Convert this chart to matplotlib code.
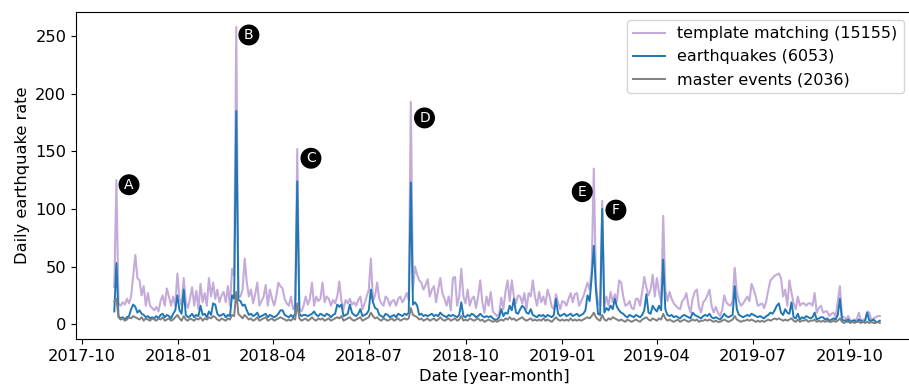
import numpy as np
import pandas as pd
import matplotlib
matplotlib.use("Agg")
import matplotlib.pyplot as plt
import matplotlib.dates as mdates

# daily rates, sampled every second day from 2017-11-01
template_counts = [
    32, 125, 18, 16, 19, 17, 22, 18, 24, 42, 60, 40, 38, 25, 33, 16, 27, 16, 14, 12,
    15, 11, 20, 25, 16, 31, 24, 16, 24, 16, 44, 22, 16, 40, 19, 14, 22, 32, 16, 29,
    13, 35, 19, 27, 16, 40, 24, 36, 22, 30, 19, 25, 28, 19, 33, 16, 48, 42, 258, 24,
    24, 30, 57, 36, 24, 30, 18, 26, 36, 16, 20, 24, 34, 16, 30, 22, 16, 24, 36, 33,
    31, 22, 18, 16, 24, 13, 16, 152, 13, 11, 16, 24, 17, 22, 36, 16, 24, 20, 22, 36,
    19, 24, 22, 16, 21, 18, 24, 37, 20, 13, 21, 18, 22, 17, 19, 16, 21, 24, 13, 18,
    24, 30, 57, 20, 25, 36, 22, 18, 16, 24, 22, 16, 20, 21, 16, 22, 24, 19, 22, 27,
    21, 193, 30, 50, 43, 38, 36, 30, 34, 39, 24, 30, 33, 19, 30, 40, 27, 22, 16, 24,
    12, 40, 41, 16, 24, 48, 24, 18, 30, 16, 22, 24, 14, 24, 38, 19, 10, 24, 16, 28,
    11, 9, 7, 9, 23, 13, 28, 38, 20, 38, 24, 18, 25, 24, 18, 27, 13, 27, 24, 38,
    24, 16, 28, 19, 24, 17, 30, 24, 15, 13, 26, 19, 13, 20, 19, 16, 22, 27, 19, 26,
    27, 16, 20, 24, 30, 36, 30, 48, 135, 35, 18, 16, 107, 16, 24, 16, 28, 19, 26, 20,
    38, 36, 24, 16, 17, 20, 14, 13, 22, 22, 16, 28, 41, 32, 25, 30, 43, 24, 40, 28,
    19, 94, 30, 20, 28, 22, 18, 16, 14, 13, 20, 22, 27, 16, 10, 22, 28, 30, 15, 10,
    19, 21, 25, 30, 16, 10, 15, 10, 7, 12, 25, 19, 17, 16, 20, 49, 28, 20, 16, 18,
    21, 24, 20, 35, 30, 24, 16, 17, 18, 14, 20, 30, 38, 40, 42, 43, 44, 40, 24, 30,
    16, 38, 27, 18, 13, 24, 16, 18, 18, 16, 18, 18, 16, 27, 10, 14, 16, 10, 11, 11,
    7, 9, 10, 6, 20, 33, 7, 6, 4, 7, 3, 3, 4, 4, 10, 3, 4, 4, 11, 10,
    3, 5, 6, 7, 7,
]

quake_counts = [
    11, 53, 7, 5, 6, 4, 6, 7, 13, 17, 15, 10, 12, 9, 8, 6, 7, 5, 6, 5,
    7, 5, 8, 9, 6, 8, 7, 5, 9, 12, 25, 12, 9, 30, 8, 6, 7, 9, 6, 8,
    7, 16, 8, 9, 6, 11, 8, 18, 17, 9, 7, 8, 9, 6, 8, 7, 25, 22, 185, 21,
    20, 16, 17, 12, 8, 9, 7, 8, 10, 6, 7, 8, 9, 6, 8, 7, 6, 7, 9, 12,
    12, 8, 7, 6, 8, 6, 9, 124, 9, 7, 8, 8, 7, 8, 9, 11, 8, 7, 9, 8,
    7, 9, 8, 6, 8, 9, 17, 15, 17, 7, 8, 9, 17, 10, 8, 7, 9, 13, 7, 8,
    9, 12, 30, 19, 14, 13, 8, 7, 6, 9, 8, 6, 7, 8, 6, 9, 8, 7, 9, 8,
    10, 123, 17, 19, 16, 8, 9, 7, 8, 7, 8, 9, 7, 8, 7, 10, 8, 7, 6, 8,
    7, 8, 7, 6, 8, 19, 7, 6, 8, 7, 9, 8, 6, 7, 9, 7, 6, 7, 6, 7,
    5, 4, 4, 6, 13, 7, 10, 9, 16, 12, 22, 10, 9, 13, 16, 14, 10, 9, 13, 8,
    7, 6, 8, 7, 8, 6, 8, 7, 6, 8, 22, 9, 7, 8, 9, 7, 8, 9, 7, 8,
    9, 7, 8, 9, 12, 25, 20, 41, 68, 30, 9, 8, 100, 10, 14, 12, 16, 13, 22, 15,
    12, 10, 9, 7, 6, 8, 7, 6, 8, 7, 6, 8, 12, 26, 10, 9, 16, 13, 11, 16,
    12, 56, 13, 8, 7, 8, 6, 7, 6, 5, 7, 8, 7, 6, 5, 10, 8, 7, 6, 5,
    7, 8, 7, 9, 6, 5, 6, 5, 4, 6, 9, 7, 6, 7, 8, 33, 13, 8, 7, 6,
    7, 8, 7, 9, 8, 7, 6, 7, 6, 5, 7, 8, 10, 9, 12, 16, 18, 10, 8, 13,
    10, 9, 19, 6, 5, 9, 4, 6, 5, 7, 6, 5, 6, 10, 4, 5, 6, 6, 4, 5,
    3, 4, 5, 4, 8, 22, 4, 3, 3, 4, 2, 3, 3, 2, 4, 3, 2, 3, 10, 3,
    3, 4, 2, 2, 3,
]

master_counts = [
    20, 22, 6, 4, 5, 3, 4, 6, 5, 7, 6, 5, 4, 6, 3, 5, 4, 3, 5, 4,
    3, 5, 4, 6, 3, 4, 5, 3, 4, 6, 8, 5, 3, 7, 4, 3, 5, 4, 3, 5,
    4, 6, 3, 5, 4, 6, 5, 7, 6, 4, 3, 5, 4, 3, 5, 4, 8, 7, 28, 9,
    7, 5, 8, 6, 4, 5, 3, 4, 6, 3, 4, 5, 6, 3, 4, 5, 3, 4, 5, 6,
    5, 4, 3, 4, 3, 5, 4, 18, 5, 3, 4, 5, 3, 4, 6, 4, 3, 5, 4, 5,
    3, 4, 5, 3, 4, 5, 6, 5, 7, 3, 4, 5, 6, 4, 3, 4, 5, 6, 3, 4,
    5, 6, 10, 7, 5, 6, 4, 3, 5, 4, 3, 4, 5, 3, 4, 5, 3, 4, 5, 4,
    5, 14, 8, 7, 6, 4, 5, 3, 4, 5, 3, 4, 5, 3, 4, 6, 4, 3, 4, 5,
    3, 4, 5, 3, 4, 7, 3, 4, 3, 5, 4, 3, 4, 5, 3, 4, 2, 3, 4, 3,
    2, 3, 2, 3, 4, 3, 5, 4, 6, 4, 5, 3, 4, 5, 6, 4, 3, 4, 5, 3,
    4, 3, 4, 3, 5, 3, 4, 3, 2, 4, 6, 4, 3, 4, 3, 4, 3, 5, 3, 4,
    3, 4, 3, 4, 5, 6, 5, 7, 10, 6, 4, 3, 8, 4, 3, 5, 4, 6, 5, 4,
    3, 4, 3, 2, 4, 3, 2, 3, 4, 3, 2, 4, 5, 6, 4, 3, 5, 4, 3, 5,
    4, 9, 5, 3, 4, 3, 2, 3, 4, 2, 3, 4, 3, 2, 3, 4, 3, 4, 2, 3,
    3, 4, 3, 4, 3, 2, 3, 2, 2, 3, 4, 3, 2, 3, 4, 7, 4, 3, 2, 3,
    3, 4, 3, 4, 3, 2, 3, 2, 3, 2, 3, 4, 3, 4, 5, 4, 5, 4, 3, 4,
    3, 4, 5, 3, 2, 4, 2, 3, 3, 4, 2, 3, 3, 4, 2, 3, 2, 3, 2, 3,
    2, 2, 3, 2, 3, 5, 2, 1, 2, 2, 1, 2, 1, 2, 2, 1, 2, 1, 2, 1,
    2, 1, 1, 2, 1,
]

dates = pd.date_range("2017-11-01", periods=len(template_counts), freq="2D")

# labelled sequences
event_labels = ["A", "B", "C", "D", "E", "F"]
event_dates = ["2017-11-15", "2018-03-09", "2018-05-07", "2018-08-23", "2019-01-20", "2019-02-21"]
event_heights = [121, 251, 144, 179, 115, 99]

plt.rcParams["font.size"] = 11.7

fig = plt.figure(figsize=(9.09, 3.89), dpi=100)
# right spine sits just past the edge of the saved image
ax = fig.add_axes([0.0836, 0.1285, 0.9197, 0.8405])

ax.plot(dates, template_counts, color="tab:purple", alpha=0.55, lw=1.5,
        label="template matching (15155)")
ax.plot(dates, quake_counts, color="tab:blue", lw=1.4, label="earthquakes (6053)")
ax.plot(dates, master_counts, color="gray", lw=1.4, label="master events (2036)")

for lab, d, h in zip(event_labels, event_dates, event_heights):
    ax.text(pd.Timestamp(d), h, lab, color="white", fontsize=10,
            ha="center", va="center",
            bbox=dict(boxstyle="circle,pad=0.2", fc="black", ec="black"))

ax.set_xlim(pd.Timestamp("2017-09-25 14:00"), pd.Timestamp("2019-11-29 14:00"))
ax.set_ylim(-12.9, 270.9)
ax.set_yticks([0, 50, 100, 150, 200, 250])
ax.xaxis.set_major_locator(mdates.MonthLocator(bymonth=[1, 4, 7, 10]))
ax.xaxis.set_major_formatter(mdates.DateFormatter("%Y-%m"))

ax.set_xlabel("Date [year-month]")
ax.set_ylabel("Daily earthquake rate")
ax.legend(loc="upper right", fontsize=11.4)

fig.savefig("out.png", dpi=100)
